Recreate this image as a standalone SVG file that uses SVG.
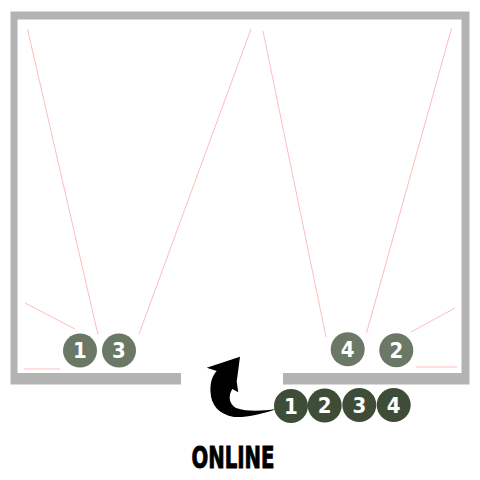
<svg xmlns="http://www.w3.org/2000/svg" width="480" height="480" viewBox="0 0 480 480">
<style>
.wall{fill:#b3b3b3}
.ray{stroke:#ffbcbc;stroke-width:1;fill:none}
.light{fill:#6b7866}
.dark{fill:#3e4d37}
.num{fill:#fff;font-family:"Liberation Sans Narrow","DejaVu Sans Condensed","Liberation Sans",sans-serif;font-weight:bold;font-size:22px;text-anchor:middle}
.label{fill:#000;stroke:#000;stroke-width:0.9;font-family:"Liberation Sans Narrow","DejaVu Sans Condensed","Liberation Sans",sans-serif;font-weight:bold;font-size:31px}
</style>
<rect width="480" height="480" fill="#fff"/>
<g id="room">
<path class="wall" d="M10.5,11.5 H469.5 V384.5 H283 V373 H461.5 V19.5 H17.5 V373 H181 V384.5 H10.5 Z"/>
</g>
<g id="rays">
<line class="ray" x1="27.5" y1="29" x2="98" y2="335"/>
<line class="ray" x1="251" y1="29" x2="139" y2="334"/>
<line class="ray" x1="25" y1="303" x2="75" y2="329"/>
<line class="ray" x1="24" y1="369" x2="60" y2="369"/>
<line class="ray" x1="263" y1="31" x2="326" y2="337"/>
<line class="ray" x1="451.5" y1="28.5" x2="366.5" y2="333"/>
<line class="ray" x1="455" y1="308" x2="411" y2="332"/>
<line class="ray" x1="416" y1="367" x2="457" y2="367"/>
</g>
<g id="n1"><circle class="light" cx="80" cy="350.5" r="17"/><text class="num" x="80" y="358">1</text></g>
<g id="n3"><circle class="light" cx="119" cy="350.5" r="17"/><text class="num" x="119" y="358">3</text></g>
<g id="n4"><circle class="light" cx="347.7" cy="349.2" r="17"/><text class="num" x="347.7" y="356.7">4</text></g>
<g id="n2"><circle class="light" cx="396.3" cy="350.2" r="17"/><text class="num" x="396.3" y="357.7">2</text></g>
<g id="arrow">
<path fill="#000" d="M240,356.7 L236.7,381.7 L238.3,392.3 L232.3,389 C228,396 229,404 236,408 C248,412 262,411 276.7,409 C262,414 248,417.5 234,417 C219,414.5 211,405 210.5,392 C210,383 212,376 216.7,371 L206.7,367.7 Z"/>
</g>
<g id="queue">
<g id="q1"><circle class="dark" cx="291" cy="406" r="17"/><text class="num" x="291" y="413.5">1</text></g>
<g id="q2"><circle class="dark" cx="324.7" cy="405.5" r="17"/><text class="num" x="324.7" y="413">2</text></g>
<g id="q3"><circle class="dark" cx="359.3" cy="405" r="17"/><text class="num" x="359.3" y="412.5">3</text></g>
<g id="q4"><circle class="dark" cx="393.7" cy="405" r="17"/><text class="num" x="393.7" y="412.5">4</text></g>
</g>
<text class="label" x="191.5" y="467.5" textLength="83" lengthAdjust="spacingAndGlyphs">ONLINE</text>
</svg>
